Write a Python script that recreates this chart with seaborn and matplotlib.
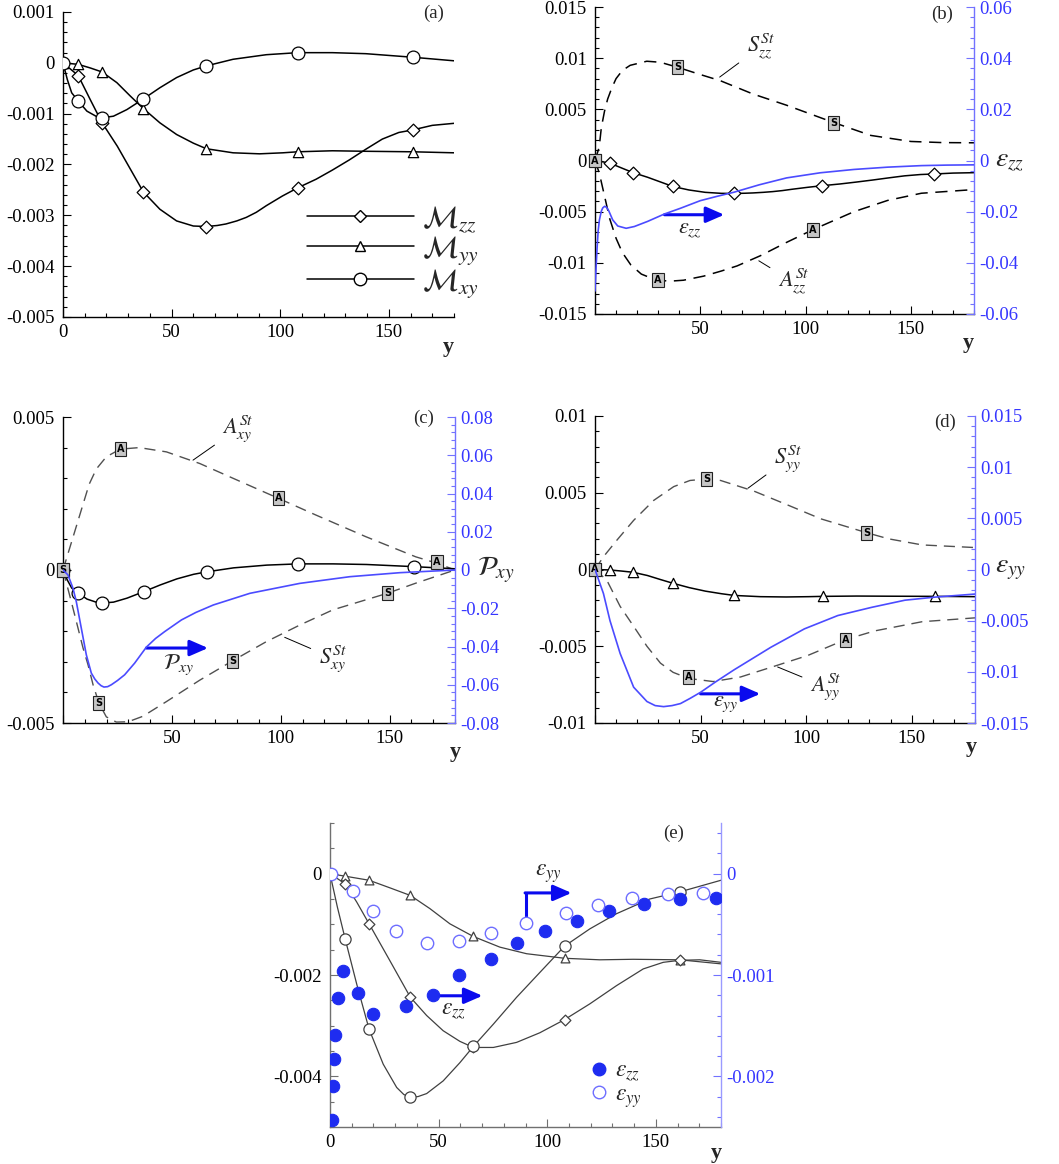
import numpy as np
import matplotlib
matplotlib.use("Agg")
import matplotlib.pyplot as plt
import seaborn as sns
from matplotlib.ticker import MultipleLocator, FuncFormatter
from matplotlib.lines import Line2D

# ---------------- data ----------------
stations = [0, 7, 18, 37, 66, 108, 161]

# panel (a) / reused in (b),(c),(d)
Mzz_y = [0, 7, 12.5, 18, 25, 31, 37, 44.6, 52.3, 60, 66, 71, 75, 80, 84.4, 89, 93.6, 101, 108,
         116.5, 124, 131.8, 139.4, 147, 154.6, 161, 170, 180]
Mzz_v = [0, -0.00025, -0.00072, -0.00118, -0.00164, -0.00209, -0.00254, -0.00288, -0.00311,
         -0.00321, -0.00322, -0.0032, -0.00317, -0.00311, -0.00304, -0.00294, -0.00281,
         -0.00262, -0.00246, -0.00229, -0.00211, -0.00191, -0.0017, -0.0015, -0.00137,
         -0.00132, -0.00123, -0.00119]
Mxy_y = [0, 2, 4, 7, 11, 15.6, 18, 23.2, 29.4, 37, 44.6, 52.3, 60, 66, 78.3, 93.6, 108,
         124, 139.4, 161, 180]
Mxy_v = [0, -0.00033, -0.00059, -0.00075, -0.00095, -0.00106, -0.00108, -0.00105, -0.00092,
         -0.00071, -0.00049, -0.00029, -0.00014, -0.00006, 0.00007, 0.00016, 0.0002, 0.0002,
         0.00018, 0.00011, 0.00004]
Myy_y = [0, 7, 12.5, 18, 24.8, 30.9, 37, 44.6, 52.3, 60, 66, 78.3, 90.5, 101.2, 108, 124,
         139.4, 161, 180]
Myy_v = [0, -0.00003, -0.0001, -0.00018, -0.00039, -0.00065, -0.0009, -0.00118, -0.00141,
         -0.00158, -0.00169, -0.00177, -0.00179, -0.00177, -0.00175, -0.00173, -0.00174,
         -0.00175, -0.00177]

# panel (b)
Szz_y = [0, 2, 3, 4.5, 6, 8, 10, 13, 16.7, 24.6, 31, 39.4, 50, 59.5, 75, 91, 113.5, 131,
         150, 165, 180]
Szz_v = [0, 0.0013, 0.0032, 0.0048, 0.006, 0.0071, 0.008, 0.0088, 0.0093, 0.0097, 0.0096,
         0.0091, 0.0084, 0.0078, 0.0065, 0.0054, 0.0037, 0.00245, 0.00186, 0.00175, 0.00173]
Azz_y = [0, 2, 4, 7, 10, 13, 17, 22, 28, 35, 42, 51.6, 60, 67.5, 78.6, 91, 103.6, 123, 139,
         155, 180]
Azz_v = [0, -0.0012, -0.003, -0.0057, -0.0076, -0.009, -0.0102, -0.0111, -0.0116, -0.0118,
         -0.0117, -0.0113, -0.0108, -0.0103, -0.0093, -0.008, -0.00675, -0.005, -0.0039,
         -0.0032, -0.00284]
Szz_box_y = [0, 39.4, 113.5]
Szz_box_v = [0, 0.0091, 0.0037]
Azz_box_y = [0, 30, 103.6]
Azz_box_v = [0, -0.0117, -0.00675]
ezz_y = [0, 0.5, 1, 1.5, 2.1, 3, 3.7, 4.6, 5.5, 6.5, 8.4, 10.8, 14.8, 18.7, 25, 33, 40.5,
         50, 58, 66, 78, 91, 107, 123, 139, 155, 167, 180]
ezz_v = [-0.051, -0.042, -0.034, -0.0275, -0.0232, -0.0198, -0.0185, -0.0179, -0.0183,
         -0.0196, -0.0232, -0.0256, -0.0265, -0.0258, -0.0238, -0.0209, -0.0187, -0.0157,
         -0.014, -0.0124, -0.0095, -0.0068, -0.0048, -0.0035, -0.0026, -0.002, -0.0018,
         -0.0017]

# panel (c)
Axy_y = [0, 3, 6, 9, 12, 15.3, 19.9, 26.3, 35, 47.5, 62.8, 78, 99, 116, 139, 162, 171.8, 180]
Axy_v = [0, 0.0007, 0.0014, 0.0021, 0.0028, 0.0033, 0.0037, 0.00395, 0.004, 0.00386,
         0.00348, 0.003, 0.00234, 0.0018, 0.00109, 0.00043, 0.00022, 0]
Sxy_y = [0, 3.8, 6.9, 9.2, 11.5, 13.8, 16.5, 19.9, 24.5, 29.9, 36.7, 47.5, 62.8, 77.8, 93.4,
         108.7, 124, 149, 162, 180]
Sxy_v = [0, -0.00103, -0.0019, -0.00255, -0.0031, -0.00375, -0.00435, -0.0048, -0.00497,
         -0.00496, -0.00478, -0.0043, -0.0036, -0.00297, -0.00234, -0.0018, -0.0013,
         -0.00076, -0.00043, 0]
Axy_box_y = [0, 26.3, 99, 171.8]
Axy_box_v = [0, 0.00395, 0.00234, 0.00025]
Sxy_box_y = [0, 16.5, 77.8, 149]
Sxy_box_v = [0, -0.00435, -0.00297, -0.00076]
Pxy_y = [0, 2.3, 4.6, 6.1, 8.4, 10.7, 13, 14.6, 16.1, 17.5, 18.8, 20.5, 22.2, 25, 28.3,
         32.9, 38.3, 42.5, 46.7, 54.4, 61, 69, 85.8, 108.7, 131.7, 154.7, 180]
Pxy_v = [0, -0.0026, -0.0096, -0.0165, -0.0304, -0.0443, -0.0539, -0.0570, -0.0591,
         -0.0605, -0.0612, -0.0610, -0.06, -0.0578, -0.0548, -0.0487, -0.0403, -0.0358,
         -0.0322, -0.0261, -0.0222, -0.0183, -0.0122, -0.007, -0.0035, -0.0014, 0]

# panel (d)
Syy_y = [0, 4, 10.3, 18.3, 27.8, 37.3, 45, 53, 59.5, 75.4, 91.3, 107, 128.6, 139, 155, 180]
Syy_v = [0, 0.00083, 0.0019, 0.0032, 0.0045, 0.0054, 0.0058, 0.0059, 0.0058, 0.0051, 0.0042,
         0.0033, 0.0024, 0.002, 0.0016, 0.00143]
Ayy_y = [0, 5.6, 11.9, 18.3, 24.6, 31, 37, 44.4, 56, 69, 85, 100.8, 118.6, 132.5, 155, 180]
Ayy_v = [0, -0.0007, -0.0024, -0.0037, -0.005, -0.0061, -0.0067, -0.0071, -0.0073, -0.007,
         -0.0063, -0.0056, -0.00457, -0.004, -0.0034, -0.00315]
Syy_box_y = [0, 53, 128.6]
Syy_box_v = [0, 0.0059, 0.0024]
Ayy_box_y = [0, 44.4, 118.6]
Ayy_box_v = [0, -0.0070, -0.00457]
eyy_y = [0, 4, 7.1, 11.9, 18.3, 24.6, 28.5, 32.5, 36.5, 40.5, 45, 50, 57, 65.9, 83.3, 99.2,
         115, 131, 146.8, 161, 180]
eyy_v = [0, -0.00235, -0.005, -0.0082, -0.0115, -0.0129, -0.0133, -0.0134, -0.0133, -0.0131,
         -0.0126, -0.012, -0.011, -0.0098, -0.0076, -0.0058, -0.0045, -0.0037, -0.003,
         -0.0027, -0.0024]

# panel (e)
Ec_y = [0, 3.4, 7, 12.3, 18, 24.5, 30.7, 34, 37, 40.5, 44.5, 52.1, 59.8, 66, 75.2, 85.9,
        96.6, 108, 119.6, 131.9, 147.2, 161, 180]
Ec_v = [0, -0.00066, -0.00129, -0.00218, -0.00307, -0.00376, -0.00422, -0.00436, -0.00441,
        -0.0044, -0.00434, -0.00409, -0.00373, -0.00341, -0.00297, -0.00244, -0.00195,
        -0.00143, -0.00109, -0.00079, -0.0005, -0.00036, -0.00013]
Ed_y = [0, 7, 12.3, 18, 27.6, 37, 44.5, 52.1, 59.8, 66, 75.2, 85.9, 96.6, 108, 119.6, 131.9,
        144.2, 153.4, 161, 170.2, 180]
Ed_v = [0, -0.0002, -0.00056, -0.00099, -0.00172, -0.00244, -0.0028, -0.0031, -0.00331,
        -0.00343, -0.00343, -0.00333, -0.00314, -0.00288, -0.00257, -0.00221, -0.00188,
        -0.00175, -0.00171, -0.0017, -0.00175]
Et_y = [0, 7, 18, 27.6, 37, 46, 55.2, 66, 78.2, 90.5, 108, 124.2, 139.6, 161, 180]
Et_v = [0, -0.00005, -0.00013, -0.00028, -0.00043, -0.00069, -0.00099, -0.00124, -0.00145,
        -0.00158, -0.00167, -0.0017, -0.00169, -0.0017, -0.00178]
ezzE_y = [0.8, 1.2, 1.8, 2.3, 3.8, 5.8, 13, 19.6, 35, 47.5, 59.5, 73.9, 85.9, 98.9, 113.5,
          128.4, 144.6, 161, 177.6]
ezzE_v = [-0.00243, -0.0021, -0.00183, -0.00159, -0.00123, -0.00096, -0.00118, -0.00138,
          -0.00131, -0.0012, -0.001, -0.00084, -0.00068, -0.00057, -0.00047, -0.00037,
          -0.0003, -0.00025, -0.00024]
eyyE_y = [0.3, 10.7, 19.6, 30.4, 44.5, 59.3, 73.9, 90.2, 108.6, 123.5, 139, 155.4, 171.8]
eyyE_v = [0, -0.00017, -0.00037, -0.00057, -0.00068, -0.00066, -0.00059, -0.00049,
          -0.00039, -0.00031, -0.00024, -0.0002, -0.00019]

# ---------------- style ----------------
sns.set_theme(style="ticks")
plt.rcParams["font.family"] = ["Liberation Serif", "DejaVu Serif"]
plt.rcParams["mathtext.fontset"] = "stix"
plt.rcParams["axes.unicode_minus"] = False

BLUE_LINE = "#4b4bff"
BLUE_TXT = "#3636ff"
BLUE_SPINE = "#7272ff"
ARROW = "#0a0aee"
DOT = "#1e2cf0"
OPEN = "#6e6eff"
GRAY_DASH = "#505050"
TICK_FS = 13.5


def fmt(v, pos):
    v = round(v, 7)
    if abs(v) < 1e-12:
        return "0"
    return "%g" % v


def base(ax, ylim, major, minor, zero_label=True, spine="black"):
    ax.set_xlim(0, 180)
    ax.set_ylim(*ylim)
    for s in ["top", "right"]:
        ax.spines[s].set_visible(False)
    for s in ["left", "bottom"]:
        ax.spines[s].set_color(spine)
        ax.spines[s].set_linewidth(1.0)
    ax.xaxis.set_major_locator(MultipleLocator(50))
    ax.xaxis.set_minor_locator(MultipleLocator(10))
    ax.yaxis.set_major_locator(MultipleLocator(major))
    ax.yaxis.set_minor_locator(MultipleLocator(minor))
    ax.yaxis.set_major_formatter(FuncFormatter(fmt))
    ax.xaxis.set_major_formatter(
        FuncFormatter(lambda v, p: ("%d" % round(v)) if (zero_label or round(v) != 0) else ""))
    ax.tick_params(which="both", direction="in", top=False, right=False, colors=spine,
                   labelcolor="black", labelsize=TICK_FS, width=0.8)
    ax.tick_params(which="major", length=6)
    ax.tick_params(which="minor", length=3)
    ax.tick_params(axis="y", pad=6)
    ax.tick_params(axis="x", pad=5)
    ax.grid(False)
    ax.set_xlabel("")
    ax.set_ylabel("")


def twin(ax, ylim, major, minor):
    a2 = ax.twinx()
    a2.set_ylim(*ylim)
    for s in ["left", "top", "bottom"]:
        a2.spines[s].set_visible(False)
    a2.spines["right"].set_color(BLUE_SPINE)
    a2.spines["right"].set_linewidth(1.0)
    a2.yaxis.set_major_locator(MultipleLocator(major))
    a2.yaxis.set_minor_locator(MultipleLocator(minor))
    a2.yaxis.set_major_formatter(FuncFormatter(fmt))
    a2.tick_params(axis="y", which="both", direction="in", colors=BLUE_SPINE,
                   labelcolor=BLUE_TXT, labelsize=TICK_FS, pad=4, width=0.8)
    a2.tick_params(axis="y", which="major", length=6)
    a2.tick_params(axis="y", which="minor", length=3)
    a2.grid(False)
    a2.set_ylabel("")
    return a2


def curve(ax, xs, vs, color="black", lw=1.1, ls="-", marker=None, s=50, z=3):
    sns.lineplot(x=xs, y=vs, ax=ax, color=color, linewidth=lw, linestyle=ls,
                 estimator=None, sort=False, legend=False, zorder=z)
    if marker is not None:
        xa = np.asarray(xs, float)
        va = np.asarray(vs, float)
        m = np.isin(xa, stations)
        sns.scatterplot(x=xa[m], y=va[m], ax=ax, marker=marker, s=s, color="white",
                        edgecolor=color, linewidth=0.9, zorder=z + 2, legend=False)
    ax.set_xlabel("")
    ax.set_ylabel("")


def boxes(ax, xs, vs, letter):
    for x, v in zip(xs, vs):
        ax.text(x, v, letter, ha="center", va="center", fontsize=7, fontweight="bold",
                family="DejaVu Sans", color="black", zorder=8,
                bbox=dict(boxstyle="square,pad=0.2", fc="#c6c6c6", ec="#222222", lw=0.8))


def arrow(ax, x0, x1, y):
    ax.annotate("", xy=(x1, y), xytext=(x0, y),
                arrowprops=dict(arrowstyle="-|>,head_length=0.55,head_width=0.24",
                                color=ARROW, lw=2.2, shrinkA=0, shrinkB=0,
                                mutation_scale=20), zorder=9)


def leader(ax, text, xy, xyt, fs=16):
    ax.annotate(text, xy=xy, xytext=xyt, ha="center", va="center", fontsize=fs,
                arrowprops=dict(arrowstyle="-", lw=0.7, color="black", shrinkA=4, shrinkB=0))


def ylab(ax, x, y):
    ax.text(x, y, "y", transform=ax.transAxes, ha="center", va="center", fontsize=16,
            fontweight="bold")


# ---------------- figure ----------------
W, H = 1059, 1164
fig = plt.figure(figsize=(W / 100, H / 100), dpi=100)


def rect(l, r, t, b):
    return [l / W, 1 - b / H, (r - l) / W, (b - t) / H]


axA = fig.add_axes(rect(63, 454, 12, 317))
axB = fig.add_axes(rect(595, 974, 7, 314))
axC = fig.add_axes(rect(63, 455, 417, 723))
axD = fig.add_axes(rect(595, 975, 416, 723))
axE = fig.add_axes(rect(330, 721, 823, 1127))

# ---- (a)
base(axA, (-0.005, 0.001), 0.001, 0.0002)
curve(axA, Mzz_y, Mzz_v, marker="D", s=42)
curve(axA, Myy_y, Myy_v, marker="^", s=55)
curve(axA, Mxy_y, Mxy_v, marker="o", s=85)
axA.text(170.8, 0.00097, "(a)", ha="center", va="center", fontsize=TICK_FS)
hA = [Line2D([], [], color="black", lw=1.1, marker="D", ms=6.5, mfc="white", mec="black"),
      Line2D([], [], color="black", lw=1.1, marker="^", ms=7.5, mfc="white", mec="black"),
      Line2D([], [], color="black", lw=1.1, marker="o", ms=9, mfc="white", mec="black")]
axA.legend(handles=hA, labels=[r"$\mathcal{M}_{zz}$", r"$\mathcal{M}_{yy}$", r"$\mathcal{M}_{xy}$"],
           loc="upper left", bbox_to_anchor=(0.624, 0.369), frameon=False, fontsize=22,
           handlelength=3.5, handletextpad=0.25, labelspacing=-0.02, borderaxespad=0,
           borderpad=0)
ylab(axA, 0.985, -0.098)

# ---- (b)
base(axB, (-0.015, 0.015), 0.005, 0.001, zero_label=False)
bB = twin(axB, (-0.06, 0.06), 0.02, 0.004)
curve(axB, Szz_y, Szz_v, ls=(0, (8, 5)), lw=1.1)
curve(axB, Azz_y, Azz_v, ls=(0, (8, 5)), lw=1.1)
curve(axB, Mzz_y, Mzz_v, marker="D", s=42)
boxes(axB, Szz_box_y, Szz_box_v, "S")
boxes(axB, Azz_box_y, Azz_box_v, "A")
curve(bB, ezz_y, ezz_v, color=BLUE_LINE, lw=1.2)
arrow(axB, 33, 61.4, -0.0053)
axB.text(45, -0.0068, r"$\varepsilon_{zz}$", ha="center", va="center", fontsize=16)
leader(axB, r"$S^{St}_{zz}$", (59.2, 0.00815), (78.6, 0.0111))
leader(axB, r"$A^{St}_{zz}$", (77.8, -0.0098), (94.4, -0.0119))
axB.text(165, 0.0143, "(b)", ha="center", va="center", fontsize=TICK_FS)
axB.text(190, 0, r"$\varepsilon_{zz}$", ha="left", va="center", fontsize=20, clip_on=False)
ylab(axB, 0.984, -0.094)

# ---- (c)
base(axC, (-0.005, 0.005), 0.005, 0.001, zero_label=False)
bC = twin(axC, (-0.08, 0.08), 0.02, 0.004)
curve(axC, Axy_y, Axy_v, color=GRAY_DASH, ls=(0, (8, 5)), lw=1.0)
curve(axC, Sxy_y, Sxy_v, color=GRAY_DASH, ls=(0, (8, 5)), lw=1.0)
curve(axC, Mxy_y, Mxy_v, marker="o", s=85)
boxes(axC, Axy_box_y, Axy_box_v, "A")
boxes(axC, Sxy_box_y, Sxy_box_v, "S")
curve(bC, Pxy_y, Pxy_v, color=BLUE_LINE, lw=1.2)
arrow(axC, 38.3, 66.6, -0.00255)
axC.text(52.8, -0.0031, r"$\mathcal{P}_{xy}$", ha="center", va="center", fontsize=16)
leader(axC, r"$A^{St}_{xy}$", (59.7, 0.00359), (80.4, 0.00462))
leader(axC, r"$S^{St}_{xy}$", (101.8, -0.0022), (124, -0.00288))
axC.text(165.4, 0.00497, "(c)", ha="center", va="center", fontsize=TICK_FS)
axC.text(190, 0, r"$\mathcal{P}_{xy}$", ha="left", va="center", fontsize=20, clip_on=False)
ylab(axC, 1.0, -0.095)

# ---- (d)
base(axD, (-0.01, 0.01), 0.005, 0.001, zero_label=False)
bD = twin(axD, (-0.015, 0.015), 0.005, 0.001)
curve(axD, Syy_y, Syy_v, color=GRAY_DASH, ls=(0, (8, 5)), lw=1.0)
curve(axD, Ayy_y, Ayy_v, color=GRAY_DASH, ls=(0, (8, 5)), lw=1.0)
curve(axD, Myy_y, Myy_v, marker="^", s=55)
boxes(axD, Syy_box_y, Syy_box_v, "S")
boxes(axD, Ayy_box_y, Ayy_box_v, "A")
curve(bD, eyy_y, eyy_v, color=BLUE_LINE, lw=1.2)
arrow(axD, 50, 78.3, -0.0081)
axD.text(61.9, -0.0088, r"$\varepsilon_{yy}$", ha="center", va="center", fontsize=16)
leader(axD, r"$S^{St}_{yy}$", (72.5, 0.0053), (91.3, 0.0072))
leader(axD, r"$A^{St}_{yy}$", (86.5, -0.00635), (109.5, -0.00765))
axD.text(165.9, 0.0096, "(d)", ha="center", va="center", fontsize=TICK_FS)
axD.text(189.5, 0, r"$\varepsilon_{yy}$", ha="left", va="center", fontsize=20, clip_on=False)
ylab(axD, 0.991, -0.077)

# ---- (e)
base(axE, (-0.005, 0.001), 0.002, 0.0005, spine="#707070")
bE = twin(axE, (-0.0025, 0.0005), 0.001, 0.0002)
bE.spines["right"].set_color("#9a9aff")
curve(axE, Et_y, Et_v, color="#404040", lw=0.9, marker="^", s=40)
curve(axE, Ed_y, Ed_v, color="#404040", lw=0.9, marker="D", s=30)
curve(axE, Ec_y, Ec_v, color="#404040", lw=0.9, marker="o", s=65)
sns.scatterplot(x=ezzE_y, y=ezzE_v, ax=bE, marker="o", s=80, color=DOT, edgecolor=DOT,
                linewidth=0.8, zorder=6, legend=False)
sns.scatterplot(x=eyyE_y, y=eyyE_v, ax=bE, marker="o", s=80, color="white", edgecolor=OPEN,
                linewidth=1.0, zorder=6, legend=False)
bE.patch.set_visible(False)
bE.set_xlabel("")
bE.set_ylabel("")
arrow(axE, 47.2, 70.2, -0.00241)
axE.text(56.7, -0.00273, r"$\varepsilon_{zz}$", ha="center", va="center", fontsize=17)
axE.plot([90.2, 90.2], [-0.00089, -0.00038], color=ARROW, lw=2.2, solid_capstyle="butt",
         zorder=9)
arrow(axE, 89.8, 111.2, -0.00038)
axE.text(100.5, 0.0, r"$\varepsilon_{yy}$", ha="center", va="center", fontsize=17)
axE.text(158, 0.00079, "(e)", ha="center", va="center", fontsize=TICK_FS)
hE = [Line2D([], [], ls="none", marker="o", ms=9, mfc=DOT, mec=DOT),
      Line2D([], [], ls="none", marker="o", ms=9, mfc="white", mec=OPEN)]
axE.legend(handles=hE, labels=[r"$\varepsilon_{zz}$", r"$\varepsilon_{yy}$"], loc="upper left",
           bbox_to_anchor=(0.657, 0.219), frameon=False, fontsize=17, handlelength=1.0,
           handletextpad=0.2, labelspacing=0.0, borderaxespad=0, borderpad=0)
ylab(axE, 0.989, -0.086)

fig.savefig("out.png", dpi=100)
